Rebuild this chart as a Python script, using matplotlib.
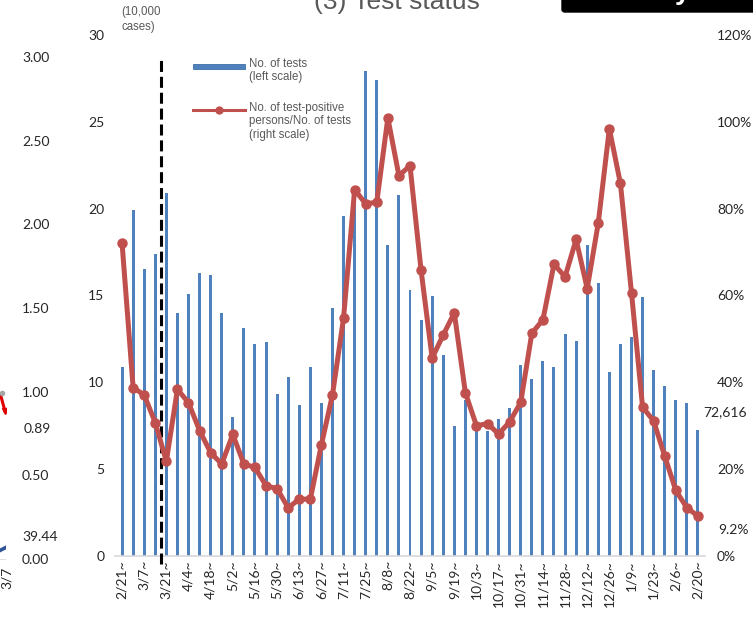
import matplotlib
matplotlib.use("Agg")
import matplotlib.pyplot as plt
from matplotlib.lines import Line2D
from matplotlib.patches import Rectangle, FancyBboxPatch
import numpy as np

# ---------------- data ----------------
week_labels = ["2/21~", "3/7~", "3/21~", "4/4~", "4/18~", "5/2~", "5/16~", "5/30~",
               "6/13~", "6/27~", "7/11~", "7/25~", "8/8~", "8/22~", "9/5~", "9/19~",
               "10/3~", "10/17~", "10/31~", "11/14~", "11/28~", "12/12~", "12/26~",
               "1/9~", "1/23~", "2/6~", "2/20~"]

tests = [10.9, 19.9, 16.5, 17.4, 20.9, 14.0, 15.1, 16.3, 16.2, 14.0, 8.0, 13.1, 12.2,
         12.3, 9.3, 10.3, 8.7, 10.9, 8.8, 14.3, 19.6, 21.0, 27.9, 27.4, 17.9, 20.8,
         15.3, 13.6, 15.0, 11.6, 7.5, 9.0, 7.4, 7.2, 7.9, 8.5, 11.0, 10.2, 11.2, 10.9,
         12.8, 12.4, 17.9, 15.7, 10.6, 12.2, 12.6, 14.9, 10.7, 9.8, 9.0, 8.8, 7.2616]

positive_rate = [72.1, 38.8, 37.1, 30.7, 21.8, 38.4, 35.3, 28.9, 23.8, 21.2, 28.0, 21.2,
                 20.4, 16.2, 15.5, 11.1, 13.1, 13.1, 25.6, 37.1, 54.8, 84.4, 81.1, 81.5,
                 100.9, 87.6, 89.9, 65.8, 45.6, 50.9, 56.0, 37.6, 30.0, 30.5, 28.1, 30.9,
                 35.4, 51.3, 54.4, 67.2, 64.3, 72.9, 61.6, 76.7, 98.4, 85.8, 60.6, 34.3,
                 31.1, 23.0, 15.1, 11.1, 9.2]

left_ticks = [0, 5, 10, 15, 20, 25, 30]
right_ticks = [0, 20, 40, 60, 80, 100, 120]
divider_week = 3.5   # position of the dashed vertical line (between weeks 4 and 5)

# partial neighbouring chart (cut off at the left edge)
side_ratio_ticks = ["3.00", "2.50", "2.00", "1.50", "1.00", "0.50", "0.00"]
side_ratio_vals = [3.0, 2.5, 2.0, 1.5, 1.0, 0.5, 0.0]
side_red = [0.98, 0.89]
side_blue = [25.0, 39.44]

W, H = 753, 618
BLUE = "#4F81BD"
RED = "#C0504D"
GRAY = "#595959"
DARK = "#262626"
TICKFONT = "Lato"
ARIAL = "Liberation Sans"

fig = plt.figure(figsize=(W / 100, H / 100), dpi=100)
fig.patch.set_facecolor("white")


def fx(px):
    return px / W


def fy(py):
    return 1 - py / H


# ---------------- main axes ----------------
x0, x1 = 115.4, 704.6
y_top, y_bot = 35, 556
ax = fig.add_axes([fx(x0), fy(y_bot), fx(x1) - fx(x0), (y_bot - y_top) / H])
n = len(tests)
x = np.arange(n)
ax.bar(x, tests, width=0.27, color=BLUE, zorder=2)
ax.set_xlim(-0.6, n - 0.4)
ax.set_ylim(0, 30)
ax.set_yticks(left_ticks)
ax.set_yticklabels([str(t) for t in left_ticks], fontsize=10, color=DARK, family=TICKFONT)
ax.set_xticks(x[::2])
ax.set_xticklabels(week_labels, rotation=90, fontsize=10, color=DARK, family=TICKFONT)
ax.tick_params(axis="y", length=0, pad=8)
ax.tick_params(axis="x", length=0, pad=3)
for s in ["top", "left", "right"]:
    ax.spines[s].set_visible(False)
ax.spines["bottom"].set_color("#D9D9D9")
ax.spines["bottom"].set_linewidth(1.2)

# dashed divider
ax.plot([divider_week, divider_week], [-0.45, 28.7], color="black", lw=2.2,
        ls=(0, (3.6, 1.6)), clip_on=False, zorder=3)

ax2 = ax.twinx()
ax2.set_ylim(0, 120)
ax2.set_yticks(right_ticks)
ax2.set_yticklabels([f"{t}%" for t in right_ticks], fontsize=10, color=DARK, family=TICKFONT)
ax2.tick_params(axis="y", length=0, pad=9)
for s in ["top", "left", "right", "bottom"]:
    ax2.spines[s].set_visible(False)
ax2.plot(x, positive_rate, color=RED, lw=3.6, marker="o", markersize=6.5,
         markerfacecolor=RED, markeredgecolor=RED, solid_joinstyle="round", zorder=4)

# end-value annotations
fig.text(fx(703), fy(412), f"{tests[-1] * 10000:,.0f}", fontsize=10, color=DARK,
         family=TICKFONT, ha="left", va="center")
fig.text(fx(718), fy(530), f"{positive_rate[-1]:.1f}%", fontsize=10, color=DARK,
         family=TICKFONT, ha="left", va="center")

# unit label
fig.text(fx(121), fy(6), "(10,000\ncases)", fontsize=8.3, color=GRAY, family=ARIAL,
         ha="left", va="top", linespacing=1.35)

# title (cut off at top, as in the source slide)
fig.text(fx(397), fy(9), "(3) Test status", fontsize=19, color=GRAY, family=ARIAL,
         ha="center", va="baseline")

# black box at top right (cut off)
fig.patches.append(FancyBboxPatch((fx(562), fy(12)), fx(W + 20) - fx(562), fy(-20) - fy(12),
                                  boxstyle="round,pad=0,rounding_size=0.004",
                                  transform=fig.transFigure, facecolor="black",
                                  edgecolor="black", zorder=5))
fig.text(fx(683), fy(-1), "y", fontsize=20, color="white", family=ARIAL,
         weight="bold", ha="center", va="baseline", zorder=6)

# ---------------- legend ----------------
fig.patches.append(Rectangle((fx(193), fy(69)), fx(245) - fx(193), (69 - 64) / H,
                             transform=fig.transFigure, facecolor=BLUE,
                             edgecolor="#3F6FA8", lw=0.6, zorder=5))
fig.text(fx(249), fy(58), "No. of tests\n(left scale)", fontsize=8.3, color=GRAY,
         family=ARIAL, ha="left", va="top", linespacing=1.15)
fig.lines.append(Line2D([fx(193), fx(245)], [fy(110), fy(110)], transform=fig.transFigure,
                        color=RED, lw=2.2))
fig.lines.append(Line2D([fx(219)], [fy(110)], transform=fig.transFigure, color=RED,
                        marker="o", markersize=5))
fig.text(fx(249), fy(102), "No. of test-positive\npersons/No. of tests\n(right scale)",
         fontsize=8.3, color=GRAY, family=ARIAL, ha="left", va="top", linespacing=1.15)

# ---------------- partial neighbouring chart ----------------
side_top, side_bot = 58, 560
axl = fig.add_axes([fx(-200), fy(side_bot), fx(6) - fx(-200), (side_bot - side_top) / H])
axl.set_xlim(0, 1)
axl.set_ylim(0, 3)
axl.axis("off")
axl.plot([0.975, 0.995], side_red, color="#E00000", lw=2.2)
axl.plot([0.995], [side_red[-1]], color="#E00000", marker="v", markersize=5)
axl.plot([0.9, 0.98], [1.0, 1.0], color="#A6A6A6", lw=1.2, ls=":")
axl.plot([0.98], [1.0], color="#A6A6A6", marker="o", markersize=3)
axl.plot([0.0, 1.0], [0.0, 0.0], color="#D9D9D9", lw=1.2)
axb = axl.twinx()
axb.set_ylim(0, 1500)
axb.axis("off")
axb.plot([0.96, 1.005], side_blue, color="#2F5597", lw=2.6, solid_capstyle="round")

for lab, v in zip(side_ratio_ticks, side_ratio_vals):
    py = side_bot - v / 3.0 * (side_bot - side_top)
    fig.text(fx(22), fy(py), lab, fontsize=10, color=DARK, family=TICKFONT,
             ha="left", va="center")
fig.text(fx(24), fy(429), f"{side_red[-1]:.2f}", fontsize=10, color=DARK,
         family=TICKFONT, ha="left", va="center")
fig.text(fx(22), fy(537), f"{side_blue[-1]:.2f}", fontsize=10, color=DARK,
         family=TICKFONT, ha="left", va="center")
fig.text(fx(7), fy(567), "3/7", fontsize=10, color=DARK, family=TICKFONT,
         rotation=90, ha="center", va="top")

fig.savefig("out.png", dpi=100)
